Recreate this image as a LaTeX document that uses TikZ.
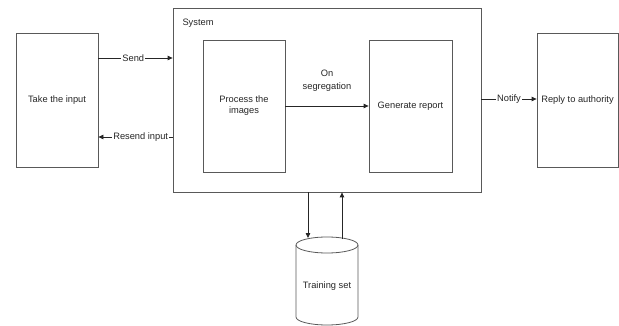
\documentclass[tikz,border=0pt]{standalone}
\usepackage{fontspec}
\setmainfont{Liberation Sans}
\usetikzlibrary{arrows.meta}
\begin{document}
\begin{tikzpicture}[x=1pt,y=-1pt,
  every node/.style={font=\fontsize{9.3}{11}\selectfont, text=black!85},
  box/.style={draw=black!65, line width=0.8pt, inner sep=0pt},
  arr/.style={draw=black!85, line width=0.8pt, -{Triangle[length=5pt,width=4.5pt]}},
  lbl/.style={fill=white, inner sep=1pt}]
\useasboundingbox (0,0) rectangle (619,326);
% boxes
\node[box, minimum width=82pt, minimum height=134pt] (inp) at (57,100) {Take the input};
\node[box, minimum width=308pt, minimum height=184pt] (sys) at (327,100) {};
\node[anchor=west] (syslbl) at (179,23) {System};
\node[box, minimum width=82pt, minimum height=132pt, align=center] (proc) at (244,106) {Process the\\images};
\node[box, minimum width=83pt, minimum height=132pt] (gen) at (410.5,106) {Generate report};
\node[box, minimum width=81pt, minimum height=134pt] (rep) at (577.5,100) {Reply to authority};
% cylinder
\draw[black!65, line width=0.8pt] (327,245) ellipse [x radius=31, y radius=8];
\draw[black!65, line width=0.8pt] (296,245) -- (296,317) arc[start angle=180, end angle=0, x radius=31, y radius=8] -- (358,245);
\node[minimum width=62pt, minimum height=80pt] (ts) at (327,286) {Training set};
% connectors
\coordinate (sendA) at (inp.east |- 0,58);
\coordinate (sendB) at (sys.west |- 0,58);
\draw[arr] (sendA) -- node[lbl, pos=0.47] {Send} (sendB);
\coordinate (resA) at (sys.west |- 0,137);
\coordinate (resB) at (inp.east |- 0,137);
\draw[arr] (resA) -- node[lbl, pos=0.43] {Resend input} (resB);
\draw[arr] (proc.east) -- node[above=14pt, align=center, inner sep=0pt] {On\\[2pt]segregation} (gen.west);
\coordinate (notA) at (sys.east |- 0,99);
\coordinate (notB) at (rep.west |- 0,99);
\draw[arr] (notA) -- node[lbl, pos=0.5] {Notify} (notB);
\coordinate (dnA) at (sys.south -| 308,0);
\coordinate (dnB) at (308,238);
\draw[arr] (dnA) -- (dnB);
\coordinate (upA) at (342,239);
\coordinate (upB) at (sys.south -| 342,0);
\draw[arr] (upA) -- (upB);
\end{tikzpicture}
\end{document}
